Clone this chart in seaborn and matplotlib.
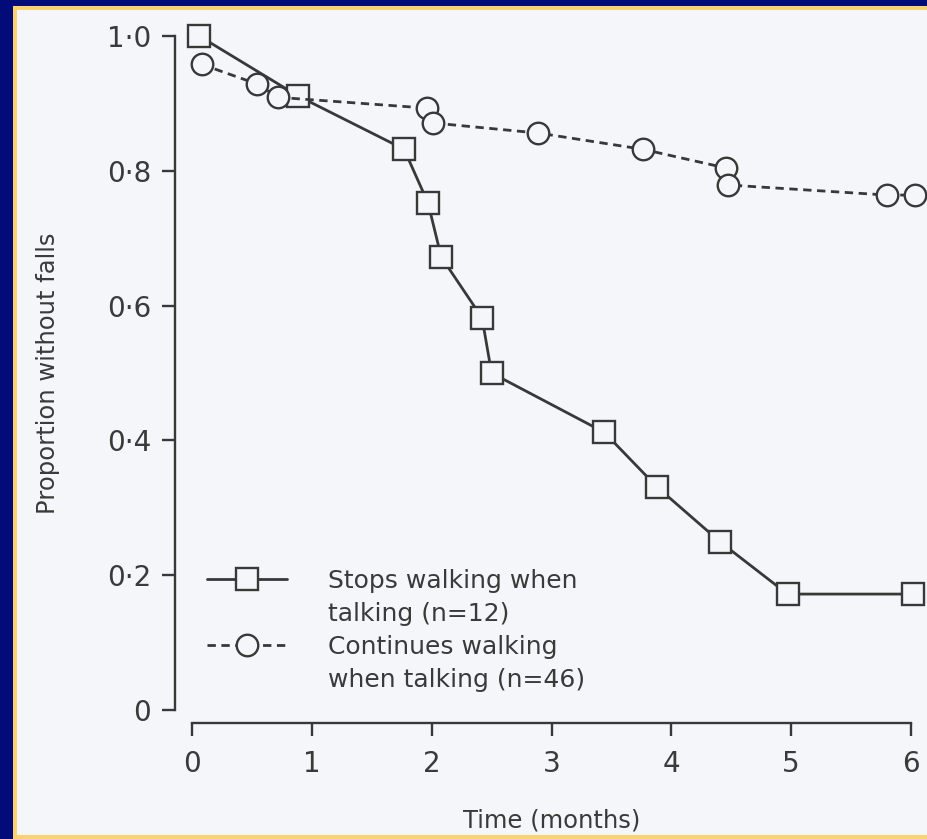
import pandas as pd
import seaborn as sns
import matplotlib.pyplot as plt
from matplotlib.lines import Line2D
from matplotlib.patches import Rectangle

# Values
stops_time = [0.06, 0.885, 1.77, 1.97, 2.08, 2.42, 2.50, 3.44, 3.88, 4.41, 4.97, 6.02]
stops_prop = [1.0, 0.911, 0.832, 0.752, 0.672, 0.582, 0.500, 0.412, 0.331, 0.249, 0.172, 0.172]

cont_time = [0.08, 0.54, 0.72, 1.96, 2.01, 2.89, 3.76, 4.46, 4.47, 5.80, 6.03]
cont_prop = [0.958, 0.929, 0.909, 0.893, 0.871, 0.856, 0.832, 0.804, 0.779, 0.764, 0.764]

x_ticks = [0, 1, 2, 3, 4, 5, 6]
y_ticks = [0, 0.2, 0.4, 0.6, 0.8, 1.0]
y_tick_labels = ["0", "0·2", "0·4", "0·6", "0·8", "1·0"]

legend_labels = ["Stops walking when", "talking (n=12)",
                 "Continues walking", "when talking (n=46)"]

stops = pd.DataFrame({"time": stops_time, "prop": stops_prop})
cont = pd.DataFrame({"time": cont_time, "prop": cont_prop})

navy = "#030b78"
gold = "#fbd272"
paper = "#f5f6fa"
ink = "#383838"
text_col = "#3a3a3a"

sns.set_style("white")
plt.rcParams["font.family"] = ["DejaVu Sans"]

fig = plt.figure(figsize=(9.27, 8.39), dpi=100)
fig.patch.set_facecolor(navy)

# gold frame and paper panel, kept behind the axes
W, H = 927.0, 839.0
fig.patches.append(Rectangle((13 / W, 0), 1, 1 - 6 / H, transform=fig.transFigure,
                             facecolor=gold, edgecolor="none", zorder=-10))
fig.patches.append(Rectangle((17 / W, 4 / H), 1, 1 - 14 / H, transform=fig.transFigure,
                             facecolor=paper, edgecolor="none", zorder=-9))

ax = fig.add_axes([192 / W, 1 - 710 / H, 719 / W, 674 / H])
ax.patch.set_visible(False)

sns.lineplot(data=stops, x="time", y="prop", ax=ax, sort=False, estimator=None,
             color=ink, linewidth=2.0, marker="s", markersize=15.5,
             markerfacecolor=paper, markeredgecolor=ink, markeredgewidth=1.7,
             clip_on=False, zorder=3)
sns.lineplot(data=cont, x="time", y="prop", ax=ax, sort=False, estimator=None,
             color=ink, linewidth=2.0, linestyle=(0, (3.0, 2.0)), marker="o",
             markersize=15.5, markerfacecolor=paper, markeredgecolor=ink,
             markeredgewidth=1.7, clip_on=False, zorder=3)

ax.set_xlim(0, 6)
ax.set_ylim(0, 1)
ax.set_xticks(x_ticks)
ax.set_xticklabels([str(t) for t in x_ticks])
ax.set_yticks(y_ticks)
ax.set_yticklabels(y_tick_labels)

sns.despine(ax=ax, offset={"left": 12, "bottom": 9})
ax.spines["left"].set_bounds(0, 1)
ax.spines["bottom"].set_bounds(0, 6)
for s in ("left", "bottom"):
    ax.spines[s].set_color(ink)
    ax.spines[s].set_linewidth(1.7)

ax.tick_params(axis="both", direction="out", length=9.5, width=1.7, color=ink,
               labelsize=20, labelcolor=text_col, left=True, bottom=True)
ax.tick_params(axis="y", pad=8)
ax.tick_params(axis="x", pad=10)

ax.set_xlabel("Time (months)", fontsize=17.5, color=text_col, labelpad=22)
ax.set_ylabel("Proportion without falls", fontsize=17.5, color=text_col, labelpad=34)

# legend: one marked row per group followed by a continuation row
blank = Line2D([], [], linestyle="none")
handles = [ax.lines[0], blank, ax.lines[1], blank]
ax.legend(handles, legend_labels, loc="upper left", bbox_to_anchor=(0.021, 0.209),
          frameon=False, fontsize=18, handlelength=3.2, handletextpad=1.65,
          labelspacing=0.36, borderpad=0, borderaxespad=0, labelcolor=text_col)

fig.savefig("out.png", dpi=100, facecolor=fig.get_facecolor())
